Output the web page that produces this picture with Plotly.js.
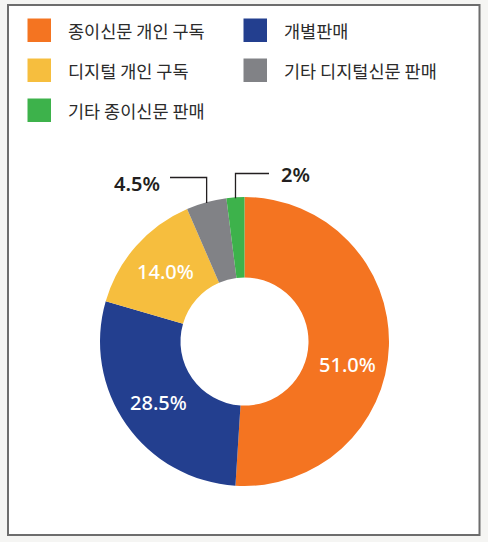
<!DOCTYPE html>
<html>
<head>
<meta charset="utf-8">
<script src="https://cdn.plot.ly/plotly-3.0.1.min.js"></script>
<style>
  html, body { margin: 0; padding: 0; background: #f5f5f3; }
  #chart { width: 488px; height: 542px; }
</style>
</head>
<body>
<div id="chart"></div>
<script>
// ---- data ----
var categories = ['종이신문 개인 구독', '개별판매', '디지털 개인 구독', '기타 디지털신문 판매', '기타 종이신문 판매'];
var values = [51.0, 28.5, 14.0, 4.5, 2];
var labelTexts = ['51.0%', '28.5%', '14.0%', '4.5%', '2%'];

// ---- styles / layout constants ----
var colors = ['#f47421', '#233f8f', '#f6be3e', '#818286', '#3db24b'];
var W = 488, H = 542;
var cx = 244.5, cy = 341.5, R = 144.5, holeFrac = 0.443;
var insideIdx = [0, 1, 2];
var angleNudge = [11, 0, 0, 0, 0];           // deg, label placement tweak
var outside = {
  3: { elbowY: 177.5, endX: 170, textX: 162, textY: 183, anchor: 'right' },
  4: { elbowY: 173.5, endX: 269, textX: 279, textY: 175, anchor: 'left' }
};
var FONT = '"Noto Sans", "Open Sans", "Noto Sans CJK KR", sans-serif';
var KFONT = '"Noto Sans CJK KR", "Noto Sans", sans-serif';

function px(x) { return x / W; }
function py(y) { return 1 - y / H; }

// mid angles (clockwise from 12 o'clock)
var total = values.reduce(function (a, b) { return a + b; }, 0);
var mids = [], acc = 0;
values.forEach(function (v) { mids.push((acc + v / 2) / total * 360); acc += v; });
function polar(angDeg, r) {
  var a = angDeg * Math.PI / 180;
  return [cx + r * Math.sin(a), cy - r * Math.cos(a)];
}

var shapes = [];
var annotations = [];

// frame
shapes.push({ type: 'rect', xref: 'paper', yref: 'paper', layer: 'below',
  x0: px(8), x1: px(479.5), y0: py(535), y1: py(5),
  fillcolor: '#ffffff', line: { color: '#6d6d6d', width: 2 } });

// legend (2 columns)
categories.forEach(function (c, i) {
  var col = i % 2, row = Math.floor(i / 2);
  var sx = col === 0 ? 27.5 : 243.5;
  var sy = 18.5 + row * 40;
  shapes.push({ type: 'rect', xref: 'paper', yref: 'paper',
    x0: px(sx), x1: px(sx + 23.5), y0: py(sy + 23.5), y1: py(sy),
    fillcolor: colors[i], line: { width: 0 } });
  annotations.push({ xref: 'paper', yref: 'paper', x: px(sx + 38.5), y: py(sy + 12),
    xanchor: 'left', yanchor: 'middle', showarrow: false, text: c,
    font: { family: KFONT, size: 17.5, color: '#2b2b2b' } });
});

// inside labels
var rMid = (R + R * holeFrac) / 2 + 1;
insideIdx.forEach(function (i) {
  var p = polar(mids[i] + angleNudge[i], rMid);
  annotations.push({ xref: 'paper', yref: 'paper', x: px(p[0]), y: py(p[1]),
    xanchor: 'center', yanchor: 'middle', showarrow: false, text: labelTexts[i],
    font: { family: FONT, size: 20, color: '#ffffff', weight: 500 } });
});

// outside labels with elbow leader lines
Object.keys(outside).forEach(function (k) {
  var i = +k, o = outside[k];
  var p = polar(mids[i], R - 1);
  shapes.push({ type: 'path', xref: 'paper', yref: 'paper',
    path: 'M' + px(p[0]) + ',' + py(p[1]) + ' L' + px(p[0]) + ',' + py(o.elbowY) +
          ' L' + px(o.endX) + ',' + py(o.elbowY),
    line: { color: '#231f20', width: 1.3 } });
  annotations.push({ xref: 'paper', yref: 'paper', x: px(o.textX), y: py(o.textY),
    xanchor: o.anchor, yanchor: 'middle', showarrow: false, text: labelTexts[i],
    font: { family: FONT, size: 20, color: '#231f20', weight: 600 } });
});

var trace = {
  type: 'pie',
  labels: categories,
  values: values,
  marker: { colors: colors, line: { width: 0 } },
  hole: holeFrac,
  sort: false,
  direction: 'clockwise',
  rotation: 0,
  textinfo: 'none',
  hoverinfo: 'label+percent',
  showlegend: false,
  domain: { x: [px(cx - R), px(cx + R)], y: [py(cy + R), py(cy - R)] }
};

var layout = {
  width: W, height: H,
  margin: { l: 0, r: 0, t: 0, b: 0 },
  paper_bgcolor: '#f5f5f3',
  showlegend: false,
  shapes: shapes,
  annotations: annotations
};

Plotly.newPlot('chart', [trace], layout, { displayModeBar: false, staticPlot: true });
</script>
</body>
</html>
